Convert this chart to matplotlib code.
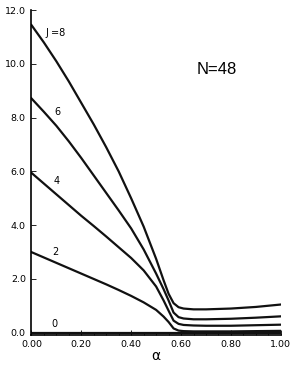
import numpy as np
import matplotlib
matplotlib.use("Agg")
import matplotlib.pyplot as plt
from matplotlib.ticker import MultipleLocator

# alpha grid and curves
alpha = [0.00, 0.05, 0.10, 0.15, 0.20, 0.25, 0.30, 0.35, 0.40, 0.45, 0.50,
         0.53, 0.55, 0.57, 0.59, 0.61, 0.65, 0.70, 0.80, 0.90, 1.00]
j8 = [11.45, 10.80, 10.10, 9.35, 8.55, 7.75, 6.90, 6.00, 5.00, 3.95, 2.75,
      1.95, 1.45, 1.10, 0.95, 0.90, 0.87, 0.87, 0.90, 0.96, 1.05]
j6 = [8.72, 8.22, 7.70, 7.12, 6.50, 5.85, 5.20, 4.55, 3.88, 3.10, 2.20,
      1.62, 1.20, 0.75, 0.58, 0.53, 0.50, 0.50, 0.52, 0.56, 0.61]
j4 = [5.95, 5.55, 5.15, 4.75, 4.35, 3.97, 3.58, 3.18, 2.78, 2.32, 1.72,
      1.20, 0.82, 0.45, 0.33, 0.29, 0.27, 0.26, 0.26, 0.28, 0.30]
j2 = [3.00, 2.80, 2.60, 2.40, 2.20, 2.00, 1.80, 1.59, 1.37, 1.13, 0.85,
      0.60, 0.40, 0.16, 0.08, 0.06, 0.05, 0.05, 0.05, 0.06, 0.07]
j0 = [0.0] * len(alpha)

curves = [j8, j6, j4, j2, j0]
labels = ["J =8", "6", "4", "2", "0"]
label_pos = [(0.055, 11.15), (0.093, 8.2), (0.088, 5.65), (0.085, 3.0), (0.078, 0.32)]

fig = plt.figure(figsize=(2.91, 3.66), dpi=100)
ax = fig.add_axes([0.108, 0.085, 0.857, 0.887])

for y in curves:
    ax.plot(alpha, y, color="#111111", lw=1.6, solid_joinstyle="round")

for txt, (x, y) in zip(labels, label_pos):
    ax.text(x, y, txt, fontsize=7, ha="left", va="center")

ax.text(0.745, 9.8, "N=48", fontsize=12, ha="center", va="center",
        family="Liberation Sans")

ax.set_xlim(0, 1.0)
ax.set_ylim(-0.08, 12.0)
ax.xaxis.set_minor_locator(MultipleLocator(0.05))
ax.set_xticks(np.arange(0, 1.01, 0.2))
ax.set_xticklabels(["%.2f" % v for v in np.arange(0, 1.01, 0.2)])
ax.set_yticks(np.arange(0, 12.1, 2))
ax.set_yticklabels(["%.1f" % v for v in np.arange(0, 12.1, 2)])
ax.tick_params(direction="in", length=3.5, width=0.6, labelsize=6.8, pad=4)
ax.tick_params(which="minor", direction="in", length=2, width=0.5)
ax.spines["top"].set_visible(False)
ax.spines["right"].set_visible(False)
ax.spines["left"].set_linewidth(1.2)
ax.spines["bottom"].set_linewidth(1.2)
ax.set_xlabel("α", fontsize=10, labelpad=0)

fig.savefig("out.png", dpi=100)
